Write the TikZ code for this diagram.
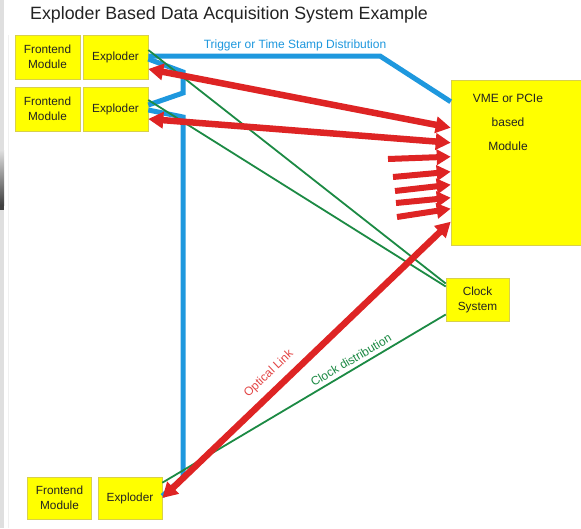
\documentclass[tikz,border=0pt]{standalone}
\usepackage{fontspec}
\setmainfont{Liberation Sans}
\usetikzlibrary{arrows.meta,calc}

\definecolor{trigblue}{RGB}{30,152,222}
\definecolor{linkred}{RGB}{222,36,36}
\definecolor{clkgreen}{RGB}{28,138,68}
\definecolor{boxyellow}{RGB}{255,255,0}
\definecolor{inkgray}{RGB}{35,35,35}

\begin{document}
\begin{tikzpicture}[x=1pt,y=-1pt,
  box/.style={draw=yellow!65!gray, line width=0.6pt, fill=boxyellow,
    minimum width=65pt, minimum height=44pt, inner sep=0pt, align=center,
    font=\fontsize{11.8}{15}\selectfont, text=inkgray},
  trigline/.style={trigblue, line width=5pt, line join=miter},
  clkline/.style={clkgreen, line width=1.8pt},
  redlink/.style={linkred, line width=6.5pt,
    {Triangle[length=15pt,width=16pt]}-{Triangle[length=15pt,width=16pt]}},
  redin/.style={linkred, line width=6pt, -{Triangle[length=14pt,width=15pt]}},
  lbl/.style={font=\fontsize{12}{14}\selectfont, inner sep=0pt},
]
% page
\fill[white] (0,0) rectangle (581,528);
\useasboundingbox (0,0) rectangle (581,528);
\fill[gray!25] (0,0) rectangle (4,528);
\shade[top color=gray!25, bottom color=black!75] (0,150) rectangle (4,205);
\fill[black!75] (0,205) rectangle (4,210);
\draw[gray!12, line width=0.6pt] (8.5,35) -- (8.5,528);

% title
\node[anchor=west, inner sep=0pt, text=inkgray, font=\fontsize{17.8}{20}\selectfont]
  (title) at (30,15) {Exploder Based Data Acquisition System Example};

% boxes
\node[box] (fe1) at (47.5,57) {Frontend\\Module};
\node[box] (ex1) at (115.5,57) {Exploder};
\node[box] (fe2) at (47.5,109) {Frontend\\Module};
\node[box] (ex2) at (115.5,109) {Exploder};
\node[box, minimum width=64pt, minimum height=42pt] (fe3) at (59.5,498) {Frontend\\Module};
\node[box, minimum width=64pt, minimum height=42pt] (ex3) at (130,498) {Exploder};
\node[box, minimum width=63pt, minimum height=43pt] (clk) at (477.5,299.5) {Clock\\System};
\node[box, minimum width=131pt, minimum height=165pt] (vme) at (516.5,162.5) {};
\node[inner sep=0pt, align=center, text=inkgray, font=\fontsize{12}{24}\selectfont]
  (vmetxt) at (508,122) {VME or PCIe\\based\\Module};

% attachment points on the boxes
\coordinate (trigin) at ([yshift=-22pt]vme.north west);
\coordinate (trigbend) at (380,56);
\coordinate (jogA) at (183,72);
\coordinate (jogB) at (183,93);
\coordinate (jogC) at (183,117);
\coordinate (jogD) at (183,478);

% trigger / time stamp distribution
\draw[trigline] ([yshift=1pt]ex1.east) -- (trigbend) -- (trigin);
\draw[trigline] ([yshift=-2pt]ex1.east) -- (jogA) -- (jogB) -- ([yshift=4pt]ex2.east);
\draw[trigline] ([yshift=-1pt]ex2.east) -- (jogC) -- (jogD) -- ([yshift=2pt]ex3.east);

% clock distribution
\draw[clkline] ([yshift=7pt]ex1.east) -- ([yshift=16pt]clk.west);
\draw[clkline] ([yshift=9pt]ex2.east) -- ([yshift=13pt]clk.west);
\draw[clkline] ([yshift=-15pt]clk.west) -- ([yshift=-6pt]ex3.north east);

% optical links
\draw[redlink] ([yshift=-12pt]ex1.east) -- ([yshift=-48pt]vme.north west);
\draw[redlink] ([yshift=-10pt]ex2.east) -- ([yshift=-63pt]vme.north west);
\draw[redlink] ([yshift=-142pt]vme.north west) -- (ex3.east);

% further incoming links
\coordinate (in1) at (388,159);
\coordinate (in2) at (393,177);
\coordinate (in3) at (395,191);
\coordinate (in4) at (396,203);
\coordinate (in5) at (397,217);
\draw[redin] (in1) -- ([yshift=-77pt]vme.north west);
\draw[redin] (in2) -- ([yshift=-92pt]vme.north west);
\draw[redin] (in3) -- ([yshift=-105pt]vme.north west);
\draw[redin] (in4) -- ([yshift=-118pt]vme.north west);
\draw[redin] (in5) -- ([yshift=-129pt]vme.north west);

% labels
\node[lbl, text=trigblue] (triglbl) at (295,45) {Trigger or Time Stamp Distribution};
\node[lbl, text=linkred!85!white, rotate=43.6] (optlbl) at (269,374) {Optical Link};
\node[lbl, text=clkgreen, rotate=30.6] (clklbl) at (351,360) {Clock distribution};
\end{tikzpicture}
\end{document}
